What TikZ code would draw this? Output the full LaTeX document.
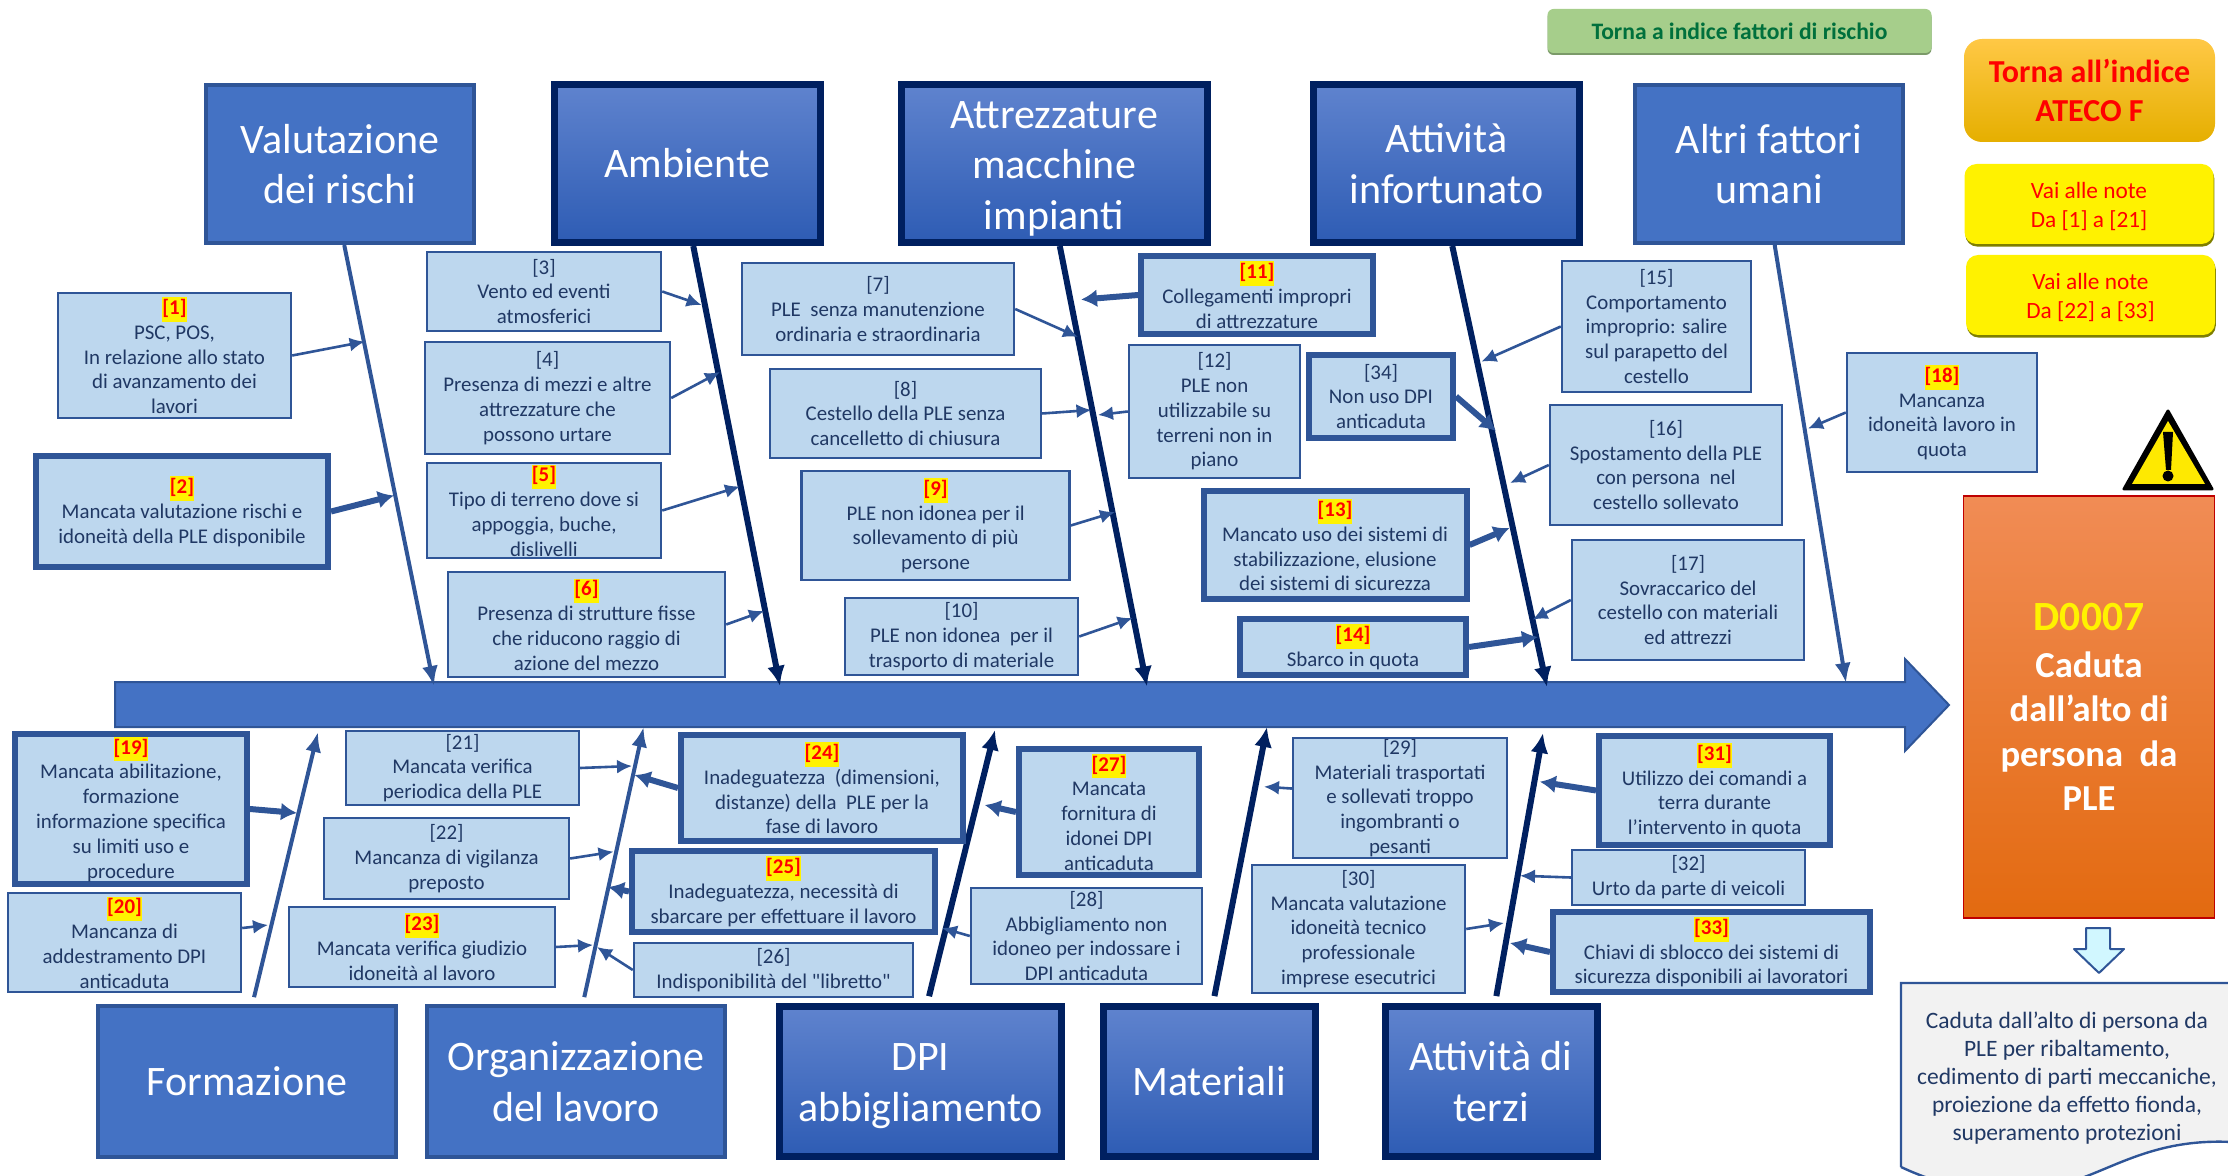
\documentclass[tikz,border=0pt]{standalone}
\usepackage{fontspec}
\setmainfont{Carlito}[Ligatures=TeXOff]
\usepackage{tikz}
\usetikzlibrary{arrows.meta}
\definecolor{barblue}{HTML}{4472C4}
\definecolor{edgeblue}{HTML}{2F5597}
\definecolor{navyline}{HTML}{002060}
\definecolor{boxblue}{HTML}{BDD7EE}
\definecolor{textnavy}{HTML}{203864}
\definecolor{shadetop}{HTML}{5F83CE}
\definecolor{shadebot}{HTML}{2E5CB4}
\definecolor{greenfill}{HTML}{A6CE8B}
\definecolor{greenedge}{HTML}{7B9A69}
\definecolor{greentext}{HTML}{00703C}
\definecolor{orangetop}{HTML}{F18C55}
\definecolor{orangemid}{HTML}{F57D32}
\definecolor{orangebot}{HTML}{E36A10}
\definecolor{goldtop}{HTML}{FFC845}
\definecolor{goldmid}{HTML}{FFBE00}
\definecolor{goldbot}{HTML}{E5AF00}
\definecolor{oliveedge}{HTML}{7F7F00}
\newcommand{\risktag}[1]{{\setlength{\fboxsep}{0pt}\colorbox{yellow}{\strut\textcolor{red}{\textbf{[#1]}}}}}
\tikzset{
  risk/.style={draw=edgeblue,line width=1.2pt,fill=boxblue,text=textnavy,align=center,inner sep=0pt,
    font=\fontsize{10.45}{12.4}\selectfont},
  riskthick/.style={risk,line width=3pt},
  cat/.style={draw=edgeblue,line width=2pt,fill=barblue,text=white,align=center,inner sep=0pt,
    font=\fontsize{21}{25.2}\selectfont},
  catdark/.style={cat,draw=navyline,line width=3.5pt,top color=shadetop,bottom color=shadebot},
  link/.style={draw=edgeblue,line width=1.3pt,-{Latex[length=7.5pt,width=7pt]}},
  linkthick/.style={draw=edgeblue,line width=3pt,-{Latex[length=8pt,width=9pt]}},
  spine/.style={draw=edgeblue,line width=2pt,-{Latex[length=10pt,width=8pt]}},
  spinedark/.style={draw=navyline,line width=3pt,-{Latex[length=10pt,width=9pt]}},
  noteyellow/.style={fill=yellow,rounded corners=6pt,text=red,align=center,
    inner sep=0pt,minimum width=124.5pt,minimum height=40pt,font=\fontsize{11.65}{14.2}\selectfont,
    preaction={fill=oliveedge,transform canvas={xshift=0.4pt,yshift=-1.3pt}}},
}
\begin{document}
\begin{tikzpicture}[x=0.5pt,y=-0.5pt]
    \useasboundingbox (0,0) rectangle (2228,1176);
    \clip (0,0) rectangle (2228,1176);
    %freccia centrale;
    \draw [edgeblue,line width=1pt,fill=barblue] (115,682) -- (1905,682) -- (1905,659) -- (1949,705) -- (1905,751) -- (1905,727) -- (115,727) -- cycle;
    %categorie sopra;
    \node [cat,minimum width=134pt,minimum height=79pt] (valutazione) at (340,164) {Valutazione\\dei rischi};
    \node [catdark,minimum width=133pt,minimum height=79pt] (ambiente) at (687.5,163.5) {Ambiente};
    \node [catdark,minimum width=153pt,minimum height=79pt] (attrezzature) at (1054,163.5) {\rule{0pt}{18.5pt}Attrezzature\\macchine\\impianti};
    \node [catdark,minimum width=133pt,minimum height=79pt] (infortunato) at (1446.5,163.5) {Attività\\infortunato};
    \node [cat,minimum width=134pt,minimum height=79pt] (altri) at (1769,164) {Altri fattori\\umani};
    %categorie sotto;
    \node [cat,minimum width=149pt,minimum height=75.5pt] (formazione) at (247,1081.5) {Formazione};
    \node [cat,minimum width=149pt,minimum height=75.5pt] (organizzazione) at (576,1081.5) {Organizzazione\\del lavoro};
    \node [catdark,minimum width=141pt,minimum height=75pt] (dpi) at (920.5,1081.5) {\rule{0pt}{18pt}DPI\\abbigliamento};
    \node [catdark,minimum width=106pt,minimum height=75pt] (materiali) at (1209,1081.5) {Materiali};
    \node [catdark,minimum width=106pt,minimum height=75pt] (terzi) at (1491,1081.5) {Attività di\\terzi};
    %estremi delle spine;
    \coordinate (s1) at (434,686);
    \coordinate (s2) at (780,686);
    \coordinate (s3) at (1147,686.5);
    \coordinate (s4) at (1547,687);
    \coordinate (s5) at (1846,683);
    \coordinate (s6) at (318,732);
    \coordinate (s7) at (643.6,727);
    \coordinate (s8) at (995,730);
    \coordinate (s9) at (1267,727);
    \coordinate (s10) at (1543,733);
    %spine;
    \draw [spine] (valutazione.-87) -- (s1);
    \draw [spinedark] (ambiente.-86.5) -- (s2);
    \draw [spinedark] (attrezzature.-86) -- (s3);
    \draw [spinedark] (infortunato.-86.5) -- (s4);
    \draw [spine] (altri.-86.5) -- (s5);
    \draw [spine,shorten <=3.5pt] (formazione.86) -- (s6);
    \draw [spine,shorten <=3.5pt] (organizzazione.85) -- (s7);
    \draw [spinedark,shorten <=3.5pt] (dpi.85) -- (s8);
    \draw [spinedark,shorten <=3.5pt] (materiali.87) -- (s9);
    \draw [spinedark,shorten <=3.5pt] (terzi.87) -- (s10);
    %caselle sopra;
    \node [risk,minimum width=116.5pt,minimum height=62.5pt] (r1) at (174.5,355.5) {\risktag{1}\\PSC, POS,\\In relazione allo stato\\di avanzamento dei\\lavori};
    \node [riskthick,minimum width=146pt,minimum height=55.5pt] (r2) at (182,511.5) {\risktag{2}\\Mancata valutazione rischi e\\idoneità della PLE disponibile};
    \node [risk,minimum width=117pt,minimum height=39.5pt] (r3) at (544,291.5) {[3]\\Vento ed eventi\\atmosferici};
    \node [risk,minimum width=122.5pt,minimum height=56pt] (r4) at (547.5,398) {[4]\\Presenza di mezzi e altre\\attrezzature che\\possono urtare};
    \node [risk,minimum width=117pt,minimum height=47.5pt] (r5) at (544,510.5) {\risktag{5}\\Tipo di terreno dove si\\appoggia, buche,\\dislivelli};
    \node [risk,minimum width=138.5pt,minimum height=52.5pt] (r6) at (586.5,624.5) {\risktag{6}\\Presenza di strutture fisse\\che riducono raggio di\\azione del mezzo};
    \node [risk,minimum width=136pt,minimum height=46pt] (r7) at (878,309) {[7]\\PLE\ \ senza manutenzione\\ordinaria e straordinaria};
    \node [risk,minimum width=135.5pt,minimum height=44.5pt] (r8) at (905.5,413.5) {[8]\\Cestello della PLE senza\\cancelletto di chiusura};
    \node [risk,minimum width=134pt,minimum height=54.5pt] (r9) at (935.6,525.5) {\risktag{9}\\PLE non idonea per il\\sollevamento di più\\persone};
    \node [risk,minimum width=116.5pt,minimum height=38.5pt] (r10) at (961.5,636.5) {[10]\\PLE non idonea\ \ per il\\trasporto di materiale};
    \node [riskthick,minimum width=116pt,minimum height=39pt] (r11) at (1257,295) {\risktag{11}\\Collegamenti impropri\\di attrezzature};
    \node [risk,minimum width=85.5pt,minimum height=66.5pt] (r12) at (1214.5,411.5) {[12]\\PLE non\\utilizzabile su\\terreni non in\\piano};
    \node [riskthick,minimum width=131.5pt,minimum height=53.5pt] (r13) at (1335,545) {\risktag{13}\\Mancato uso dei sistemi di\\stabilizzazione, elusione\\dei sistemi di sicurezza};
    \node [riskthick,minimum width=113pt,minimum height=28pt] (r14) at (1353,647) {\risktag{14}\\Sbarco in quota};
    \node [risk,minimum width=94.5pt,minimum height=65.5pt] (r15) at (1656.5,326.5) {[15]\\Comportamento\\improprio: salire\\sul parapetto del\\cestello};
    \node [risk,minimum width=116pt,minimum height=60pt] (r16) at (1666,465) {[16]\\Spostamento della PLE\\con persona\ \ nel\\cestello sollevato};
    \node [risk,minimum width=116pt,minimum height=60pt] (r17) at (1688,600) {[17]\\Sovraccarico del\\cestello con materiali\\ed attrezzi};
    \node [risk,minimum width=95pt,minimum height=59.5pt] (r18) at (1942,412.5) {\risktag{18}\\Mancanza\\idoneità lavoro in\\quota};
    \node [riskthick,minimum width=72pt,minimum height=41.5pt] (r34) at (1381,396.5) {[34]\\Non uso DPI\\anticaduta};
    %caselle sotto;
    \node [riskthick,minimum width=116pt,minimum height=75pt] (r19) at (131,809) {\risktag{19}\\Mancata abilitazione,\\formazione\\informazione specifica\\su limiti uso e\\procedure};
    \node [risk,minimum width=116.5pt,minimum height=49.5pt] (r20) at (124.5,942.5) {\risktag{20}\\Mancanza di\\addestramento DPI\\anticaduta};
    \node [risk,minimum width=116.5pt,minimum height=37pt] (r21) at (462.5,768) {[21]\\Mancata verifica\\periodica della PLE};
    \node [risk,minimum width=122.5pt,minimum height=40.5pt] (r22) at (446.5,858.5) {[22]\\Mancanza di vigilanza\\preposto};
    \node [risk,minimum width=133pt,minimum height=40pt] (r23) at (422,947) {\risktag{23}\\Mancata verifica giudizio\\idoneità al lavoro};
    \node [riskthick,minimum width=141pt,minimum height=53pt] (r24) at (822,788) {\risktag{24}\\Inadeguatezza\ \ (dimensioni,\\distanze) della\ \ PLE per la\\fase di lavoro};
    \node [riskthick,minimum width=151.5pt,minimum height=40.5pt] (r25) at (783.5,891.5) {\risktag{25}\\Inadeguatezza, necessità di\\sbarcare per effettuare il lavoro};
    \node [risk,minimum width=139.5pt,minimum height=27pt] (r26) at (773.5,970) {[26]\\Indisponibilità del "libretto"};
    \node [riskthick,minimum width=90pt,minimum height=63pt] (r27) at (1109,812) {\risktag{27}\\Mancata\\fornitura di\\idonei DPI\\anticaduta};
    \node [risk,minimum width=115.5pt,minimum height=48pt] (r28) at (1086.5,936) {[28]\\Abbigliamento non\\idoneo per indossare i\\DPI anticaduta};
    \node [risk,minimum width=107pt,minimum height=60pt] (r29) at (1400,798) {[29]\\Materiali trasportati\\e sollevati troppo\\ingombranti o\\pesanti};
    \node [risk,minimum width=106.5pt,minimum height=64pt] (r30) at (1358.5,929) {[30]\\Mancata valutazione\\idoneità tecnico\\professionale\\imprese esecutrici};
    \node [riskthick,minimum width=115.5pt,minimum height=54.5pt] (r31) at (1714.5,790.5) {\risktag{31}\\Utilizzo dei comandi a\\terra durante\\l’intervento in quota};
    \node [risk,minimum width=116.5pt,minimum height=27.5pt] (r32) at (1688.5,877.5) {[32]\\Urto da parte di veicoli};
    \node [riskthick,minimum width=158.5pt,minimum height=40pt] (r33) at (1711.5,952) {\risktag{33}\\Chiavi di sblocco dei sistemi di\\sicurezza disponibili ai lavoratori};
    %punti di arrivo sulle spine;
    \coordinate (e1) at (364.7,341.6);
    \coordinate (e2) at (394,495.5);
    \coordinate (e3) at (701.5,305);
    \coordinate (e4) at (720,372);
    \coordinate (e5) at (740,486.5);
    \coordinate (e6) at (764,611);
    \coordinate (e7) at (1078,337);
    \coordinate (e8) at (1091.5,410);
    \coordinate (e9) at (1115,512);
    \coordinate (e10) at (1132.6,618);
    \coordinate (e11) at (1081,299.6);
    \coordinate (e12) at (1098,415);
    \coordinate (e13) at (1509.6,528);
    \coordinate (e14) at (1538,637);
    \coordinate (e15) at (1481.4,361.6);
    \coordinate (e16) at (1510,483);
    \coordinate (e17) at (1532.5,619.6);
    \coordinate (e18) at (1808,428.6);
    \coordinate (e19) at (297,813);
    \coordinate (e20) at (268,925);
    \coordinate (e21) at (632,766);
    \coordinate (e22) at (613.5,851.7);
    \coordinate (e23) at (593,945);
    \coordinate (e24) at (634.5,775);
    \coordinate (e25) at (608,887);
    \coordinate (e26) at (597,947);
    \coordinate (e27) at (984.7,805);
    \coordinate (e28) at (942,928);
    \coordinate (e29) at (1264,786.7);
    \coordinate (e30) at (1504,923);
    \coordinate (e31) at (1539.8,781.7);
    \coordinate (e32) at (1520,875.7);
    \coordinate (e33) at (1510,943);
    \coordinate (e34) at (1496,431);
    %frecce delle caselle;
    \draw [link] (r1.east) -- (e1);
    \draw [linkthick] (r2.east) -- (e2);
    \draw [link] (r3.east) -- (e3);
    \draw [link] (r4.east) -- (e4);
    \draw [link] (r5.east) -- (e5);
    \draw [link] (r6.east) -- (e6);
    \draw [link] (r7.east) -- (e7);
    \draw [link] (r8.east) -- (e8);
    \draw [link] (r9.east) -- (e9);
    \draw [link] (r10.east) -- (e10);
    \draw [linkthick] (r11.west) -- (e11);
    \draw [link] (r12.west) -- (e12);
    \draw [linkthick] (r13.east) -- (e13);
    \draw [linkthick] (r14.east) -- (e14);
    \draw [link] (r15.west) -- (e15);
    \draw [link] (r16.west) -- (e16);
    \draw [link] (r17.west) -- (e17);
    \draw [link] (r18.west) -- (e18);
    \draw [linkthick] (r19.east) -- (e19);
    \draw [link] (r20.7) -- (e20);
    \draw [link] (r21.east) -- (e21);
    \draw [link] (r22.east) -- (e22);
    \draw [link] (r23.east) -- (e23);
    \draw [linkthick] (r24.west) -- (e24);
    \draw [linkthick] (r25.west) -- (e25);
    \draw [link] (r26.west) -- (e26);
    \draw [linkthick] (r27.west) -- (e27);
    \draw [link] (r28.west) -- (e28);
    \draw [link] (r29.175) -- (e29);
    \draw [link] (r30.east) -- (e30);
    \draw [linkthick] (r31.west) -- (e31);
    \draw [link] (r32.west) -- (e32);
    \draw [linkthick] (r33.west) -- (e33);
    \draw [linkthick] (r34.east) -- (e34);
    %pulsanti;
    \node [rounded corners=3pt,fill=greenfill,preaction={fill=greenedge,transform canvas={yshift=-1pt}},text=greentext,inner sep=0pt,minimum width=192pt,minimum height=22pt,font=\fontsize{11.8}{14}\selectfont\bfseries] (indice) at (1739.5,31) {Torna a indice fattori di rischio};
    \node [rounded corners=9pt,top color=goldtop,middle color=goldmid,bottom color=goldbot,text=red,align=center,inner sep=0pt,minimum width=125.5pt,minimum height=51.5pt,font=\fontsize{16}{19.6}\selectfont\bfseries] (ateco) at (2089.5,90.5) {Torna all’indice\\ATECO F};
    \node [noteyellow] (note1) at (2089,204) {\rule{0pt}{10.5pt}Vai alle note\\Da [1] a [21]};
    \node [noteyellow] (note2) at (2090.5,295) {\rule{0pt}{10.5pt}Vai alle note\\Da [22] a [33]};
    %esito;
    \node [draw=red!75!black,line width=0.8pt,top color=orangetop,middle color=orangemid,bottom color=orangebot,text=white,align=center,inner sep=0pt,minimum width=125.5pt,minimum height=211pt,font=\fontsize{18.3}{22.3}\selectfont\bfseries] (esito) at (2089,707) {{\fontsize{20.8}{24}\selectfont\textcolor{yellow}{D0007}}\\[1pt]Caduta\\dall’alto di\\persona\ \ da\\PLE};
    %triangolo di pericolo;
    \draw [black,fill=black,line width=1.5pt,line join=round] (2168,411) -- (2212,489) -- (2124,489) -- cycle;
    \fill [yellow!92!orange] (2168,421) -- (2205,484) -- (2132,484) -- cycle;
    \fill [black] (2163,432) -- (2173,432) -- (2171,470) -- (2166,470) -- cycle;
    \fill [black] (2168,476) circle [radius=5.5];
    %freccia verso il testo;
    \draw [edgeblue,line width=1pt,fill=blue!18!cyan!18!white,line join=round] (2086,928) -- (2110,928) -- (2110,949) -- (2124,949) -- (2099,973) -- (2074,949) -- (2086,949) -- cycle;
    %documento;
    \draw [edgeblue,line width=1.2pt,fill=black!5] (1901,1167) -- (1901,983) -- (2232,983) -- (2232,1142) .. controls (2150,1138) and (2110,1172) .. (2060,1185) .. controls (2000,1198) and (1950,1190) .. (1901,1167);
    \node [text=textnavy,align=center,inner sep=0pt,font=\fontsize{11.75}{14}\selectfont] (descrizione) at (2067,1078) {Caduta dall’alto di persona da\\PLE per ribaltamento,\\cedimento di parti meccaniche,\\proiezione da effetto fionda,\\superamento protezioni};
\end{tikzpicture}
\end{document}
